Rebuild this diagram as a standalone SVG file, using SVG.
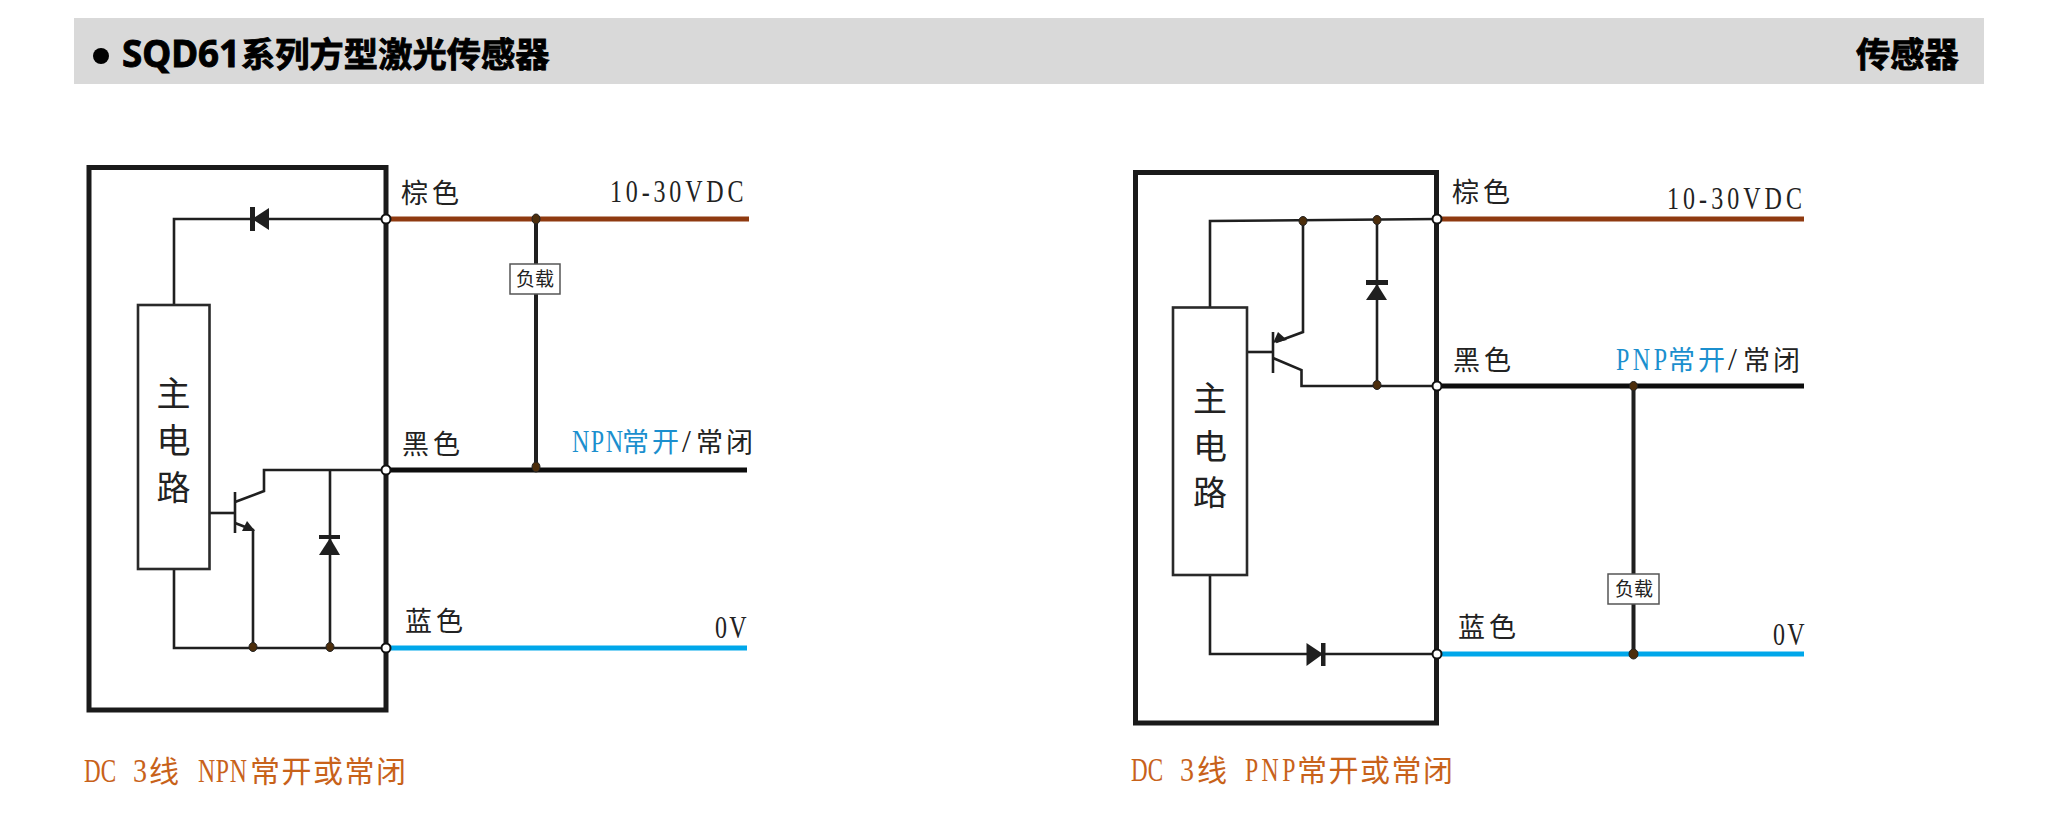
<svg xmlns="http://www.w3.org/2000/svg" width="2068" height="839" viewBox="0 0 2068 839">
<style>
text{font-family:"Noto Sans CJK SC","Noto Sans",sans-serif;fill:#222}
.ttl{font-size:34.200px;font-weight:700;fill:#000;stroke:#000;stroke-width:.9}
.lat{font-family:"Noto Sans","Noto Sans CJK SC",sans-serif;font-size:37px}
.lab{font-size:27px;letter-spacing:4px}
.ser{font-family:"Liberation Serif","Noto Sans CJK SC",serif;font-size:32px}
.mix{font-size:27px}
.blue{fill:#1b8fce}
.main{font-size:34px}
.load{font-size:19px}
.cap{font-size:30px;fill:#c8621a}
.capl{font-family:"Liberation Serif",serif;font-size:33px;fill:#c8621a}
.box{fill:none;stroke:#1a1a1a;stroke-width:5}
.mainbox{fill:#fff;stroke:#2a2a2a;stroke-width:2.6}
.w{fill:none;stroke:#1f1f1f;stroke-width:2.6}
.lw{fill:none;stroke:#1f1f1f;stroke-width:4}
.brown{fill:none;stroke:#8f3a10;stroke-width:5}
.black{fill:none;stroke:#0d0d0d;stroke-width:5}
.cyan{fill:none;stroke:#00a7ea;stroke-width:5}
.f{fill:#1f1f1f}
.node{fill:#fff;stroke:#111;stroke-width:2}
.dot{fill:#4d2e0c;stroke:#222;stroke-width:1}
.lbox{fill:#fff;stroke:#555;stroke-width:1.5}
</style>
<g id="header">
<rect x="74" y="18" width="1910" height="66" fill="#d9d9d9"/>
<circle cx="101" cy="56" r="8" fill="#000"/>
<text class="ttl lat" x="122" y="67" textLength="118" lengthAdjust="spacingAndGlyphs">SQD61</text>
<text class="ttl" x="241" y="67" letter-spacing=".1">系列方型激光传感器</text>
<text class="ttl" x="1856" y="67">传感器</text>
</g>
<g id="npn-enclosure"><rect class="box" x="89" y="167.5" width="297" height="542.5"/></g>
<g id="pnp-enclosure"><rect class="box" x="1135.5" y="172.5" width="301" height="550.5"/></g>
<g id="connectors">
<path class="brown" d="M386 219H749"/>
<path class="black" d="M386 470H747"/>
<path class="cyan" d="M386 648H747"/>
<path class="lw" d="M536 219V470"/>
<path class="w" d="M174 305V219H386"/>
<path class="w" d="M174 569V648H386"/>
<path class="w" d="M209 513H235"/>
<path class="w" d="M235 492V533"/>
<path class="w" d="M235 502L264 491V470H386"/>
<path class="w" d="M235 523L253 530V648"/>
<path class="w" d="M330 470V648"/>
<path class="brown" d="M1437 219H1804"/>
<path class="black" d="M1437 386H1804"/>
<path class="cyan" d="M1437 654H1804"/>
<path class="lw" d="M1633.500 386V654"/>
<path class="w" d="M1210 307V221L1437 219"/>
<path class="w" d="M1210 575V654H1437"/>
<path class="w" d="M1247 352H1273"/>
<path class="w" d="M1273 332V373"/>
<path class="w" d="M1303 221V332L1276 342"/>
<path class="w" d="M1273 358L1301.500 370V386H1437"/>
<path class="w" d="M1377 220V386"/>
</g>
<g id="npn-main"><rect class="mainbox" x="138" y="305" width="71.500" height="264"/>
<text class="main" x="173.500" y="406" text-anchor="middle">主</text><text class="main" x="173.500" y="453" text-anchor="middle">电</text><text class="main" x="173.500" y="500" text-anchor="middle">路</text></g>
<g id="npn-diode-top"><polygon class="f" points="252,219 269,208 269,230"/><rect class="f" x="250" y="207" width="5" height="24"/></g>
<g id="npn-diode-output"><polygon class="f" points="330,538 340,555 319,555"/><rect class="f" x="319" y="535" width="21" height="4"/></g>
<g id="npn-transistor"><polygon class="f" points="255,531 247,521 242,531"/></g>
<g id="npn-load"><rect class="lbox" x="510" y="264" width="50" height="30"/><text class="load" x="535" y="286" text-anchor="middle">负载</text></g>
<g id="npn-dots">
<ellipse class="dot" cx="536" cy="219" rx="4" ry="5"/><ellipse class="dot" cx="536" cy="467" rx="4" ry="5"/>
<ellipse class="dot" cx="253" cy="647" rx="4" ry="4.500"/><ellipse class="dot" cx="330" cy="647" rx="4" ry="4.500"/>
<circle class="node" cx="386" cy="219" r="4.500"/><circle class="node" cx="386" cy="470" r="4.500"/><circle class="node" cx="386" cy="648" r="4.500"/>
</g>
<g id="npn-labels">
<text class="lab" x="401" y="203">棕色</text>
<text class="ser" transform="translate(610 202) scale(.75 1)" textLength="178">10-30VDC</text>
<text class="lab" x="402" y="454">黑色</text>
<text class="ser blue" transform="translate(572 452) scale(.75 1)" textLength="68">NPN</text>
<text class="mix blue" x="622" y="452" letter-spacing="3">常开</text>
<text class="ser" x="682" y="452">/</text>
<text class="mix" x="696" y="452" letter-spacing="3">常闭</text>
<text class="lab" x="405" y="631">蓝色</text>
<text class="ser" transform="translate(715 638) scale(.75 1)" textLength="42">0V</text>
<text class="capl" transform="translate(84 782) scale(.7 1)" textLength="46">DC</text>
<text class="capl" transform="translate(133 782) scale(.85 1)">3</text>
<text class="cap" x="149" y="782">线</text>
<text class="capl" transform="translate(198 782) scale(.72 1)" textLength="68">NPN</text>
<text class="cap" x="250" y="782" letter-spacing="1.500">常开或常闭</text>
</g>
<g id="pnp-main"><rect class="mainbox" x="1173" y="307.500" width="74" height="267.500"/>
<text class="main" x="1210" y="411" text-anchor="middle">主</text><text class="main" x="1210" y="459" text-anchor="middle">电</text><text class="main" x="1210" y="505" text-anchor="middle">路</text></g>
<g id="pnp-diode-bottom"><polygon class="f" points="1323,654 1306.500,643 1306.500,666"/><rect class="f" x="1321" y="643" width="4.500" height="23"/></g>
<g id="pnp-diode-output"><polygon class="f" points="1377,284 1387,300 1366,300"/><rect class="f" x="1366" y="280" width="22" height="5"/></g>
<g id="pnp-transistor"><polygon class="f" points="1273,343 1287,340 1278,332"/></g>
<g id="pnp-load"><rect class="lbox" x="1608" y="574" width="51" height="30"/><text class="load" x="1634" y="596" text-anchor="middle">负载</text></g>
<g id="pnp-dots">
<ellipse class="dot" cx="1303" cy="221" rx="4" ry="4.500"/><ellipse class="dot" cx="1377" cy="220" rx="4" ry="4.500"/><ellipse class="dot" cx="1377" cy="385" rx="4" ry="4.500"/>
<ellipse class="dot" cx="1633.500" cy="386" rx="4" ry="4.500"/><ellipse class="dot" cx="1633.500" cy="654" rx="4.500" ry="5"/>
<circle class="node" cx="1437" cy="219" r="4.500"/><circle class="node" cx="1437" cy="386" r="4.500"/><circle class="node" cx="1437" cy="654" r="4.500"/>
</g>
<g id="pnp-labels">
<text class="lab" x="1452" y="202">棕色</text>
<text class="ser" transform="translate(1667 209) scale(.75 1)" textLength="180">10-30VDC</text>
<text class="lab" x="1453" y="370">黑色</text>
<text class="ser blue" transform="translate(1616 370) scale(.75 1)" textLength="68">PNP</text>
<text class="mix blue" x="1668" y="370" letter-spacing="3">常开</text>
<text class="ser" x="1728" y="370">/</text>
<text class="mix" x="1743" y="370" letter-spacing="3">常闭</text>
<text class="lab" x="1458" y="637">蓝色</text>
<text class="ser" transform="translate(1773 645) scale(.75 1)" textLength="42">0V</text>
<text class="capl" transform="translate(1131 781) scale(.7 1)" textLength="46">DC</text>
<text class="capl" transform="translate(1180 781) scale(.85 1)">3</text>
<text class="cap" x="1197" y="781">线</text>
<text class="capl" transform="translate(1245 781) scale(.72 1)" textLength="70">PNP</text>
<text class="cap" x="1297" y="781" letter-spacing="1.500">常开或常闭</text>
</g>
</svg>
